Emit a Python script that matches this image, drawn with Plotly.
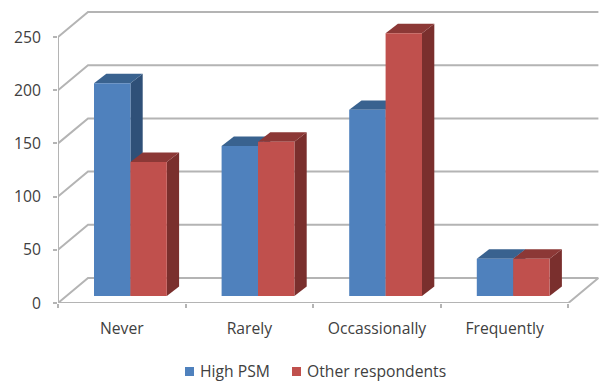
import plotly.graph_objects as go

categories = ["Never", "Rarely", "Occassionally", "Frequently"]
high_psm = [200, 141, 175, 35]
other_respondents = [126, 145, 247, 35]
y_ticks = [0, 50, 100, 150, 200, 250]

BLUE, BLUE_SIDE, BLUE_TOP = "#4F81BD", "#2F5078", "#39628F"
RED, RED_SIDE, RED_TOP = "#C0504D", "#7A2F2D", "#8C3836"
GRID = "#B4B4B4"
TEXT = "#404040"
FONT = "Open Sans"
FONT_SIZE = 15.7

# Canvas and plot area, in pixels
WIDTH, HEIGHT = 599, 381
LEFT, AXIS_Y = 58, 303
PX_PER_CAT = 127.6
PX_PER_UNIT = 1.064


def dx(px):
    return px / PX_PER_CAT


def dy(px):
    return px / PX_PER_UNIT


# Oblique projection: wall depth, where the bars stand, and the bars' own depth
WALL_X, WALL_Y = dx(30), dy(25)
BASE_X, BASE_Y = dx(8.6), dy(7)
BAR_X, BAR_Y = dx(12.3), dy(9.4)
BAR_W = dx(36.4)
X_MIN, X_MAX = -0.5, 3.5


def polygon(points, color):
    path = "M" + "L".join(f"{x},{y}" for x, y in points) + "Z"
    return dict(type="path", path=path, xref="x", yref="y", layer="below",
                fillcolor=color, line=dict(width=0))


shapes = []
for v in y_ticks:
    path = (f"M{X_MIN},{v}L{X_MIN + WALL_X},{v + WALL_Y}"
            f"L{X_MAX + WALL_X},{v + WALL_Y}")
    shapes.append(dict(type="path", path=path, xref="x", yref="y", layer="below",
                       line=dict(color=GRID, width=2)))


def faces(values, offset, side, top):
    """Side and top faces of one series' bars."""
    out = []
    for i, v in enumerate(values):
        x0 = i + BASE_X + offset - BAR_W / 2
        x1 = x0 + BAR_W
        y0 = BASE_Y
        y1 = BASE_Y + v
        out.append(polygon([(x1, y0), (x1 + BAR_X, y0 + BAR_Y),
                            (x1 + BAR_X, y1 + BAR_Y), (x1, y1)], side))
        out.append(polygon([(x0, y1), (x0 + BAR_X, y1 + BAR_Y),
                            (x1 + BAR_X, y1 + BAR_Y), (x1, y1)], top))
    return out


shapes += faces(high_psm, -BAR_W / 2, BLUE_SIDE, BLUE_TOP)
shapes += faces(other_respondents, BAR_W / 2, RED_SIDE, RED_TOP)

fig = go.Figure()
positions = list(range(len(categories)))
fig.add_bar(name="High PSM", x=[p + BASE_X - BAR_W / 2 for p in positions],
            y=high_psm, base=BASE_Y, width=BAR_W, marker=dict(color=BLUE, line_width=0),
            showlegend=False)
fig.add_bar(name="Other respondents", x=[p + BASE_X + BAR_W / 2 for p in positions],
            y=other_respondents, base=BASE_Y, width=BAR_W,
            marker=dict(color=RED, line_width=0), showlegend=False)

# Axis lines and the floor's right edge sit on the plot-area border, so they stay unclipped
fig.add_scatter(x=[X_MIN, X_MIN, None, X_MIN, X_MAX, X_MAX + WALL_X],
                y=[y_ticks[-1], 0, None, 0, 0, WALL_Y],
                mode="lines", line=dict(color=GRID, width=2), cliponaxis=False,
                hoverinfo="skip", showlegend=False)

fig.update_layout(
    width=WIDTH, height=HEIGHT, autosize=False,
    margin=dict(l=LEFT, r=0, t=0, b=HEIGHT - AXIS_Y, pad=0),
    paper_bgcolor="white", plot_bgcolor="white",
    barmode="overlay", showlegend=False, shapes=shapes,
    font=dict(family=FONT, size=FONT_SIZE, color=TEXT),
    xaxis=dict(range=[X_MIN, X_MIN + (WIDTH - LEFT) / PX_PER_CAT],
               tickmode="array", tickvals=positions, ticktext=categories,
               ticks="", showgrid=False, zeroline=False, showline=False, ticklabelstandoff=14,
               minor=dict(tickmode="array", tickvals=[p - 0.5 for p in positions] + [X_MAX],
                          ticks="outside", ticklen=4, tickcolor=GRID, tickwidth=2,
                          showgrid=False)),
    yaxis=dict(range=[0, AXIS_Y / PX_PER_UNIT], tickmode="array", tickvals=y_ticks,
               ticks="outside", ticklen=4, tickcolor=GRID, tickwidth=2, ticklabelstandoff=9,
               showgrid=False, zeroline=False, showline=False),
)


def px_x(px):
    return (px - LEFT) / (WIDTH - LEFT)


def px_y(px):
    return (AXIS_Y - px) / AXIS_Y


# Legend row beneath the chart
for name, color, sq_x, text_x in [("High PSM", BLUE, 185, 199),
                                  ("Other respondents", RED, 292, 306)]:
    fig.add_shape(type="rect", xref="paper", yref="paper",
                  x0=px_x(sq_x), x1=px_x(sq_x + 9), y0=px_y(376), y1=px_y(367),
                  fillcolor=color, line_width=0)
    fig.add_annotation(text=name, xref="paper", yref="paper", x=px_x(text_x), y=px_y(371.5),
                       xanchor="left", yanchor="middle", showarrow=False, xshift=-1,
                       font=dict(family=FONT, size=FONT_SIZE, color=TEXT))

fig.write_html("out.html")
